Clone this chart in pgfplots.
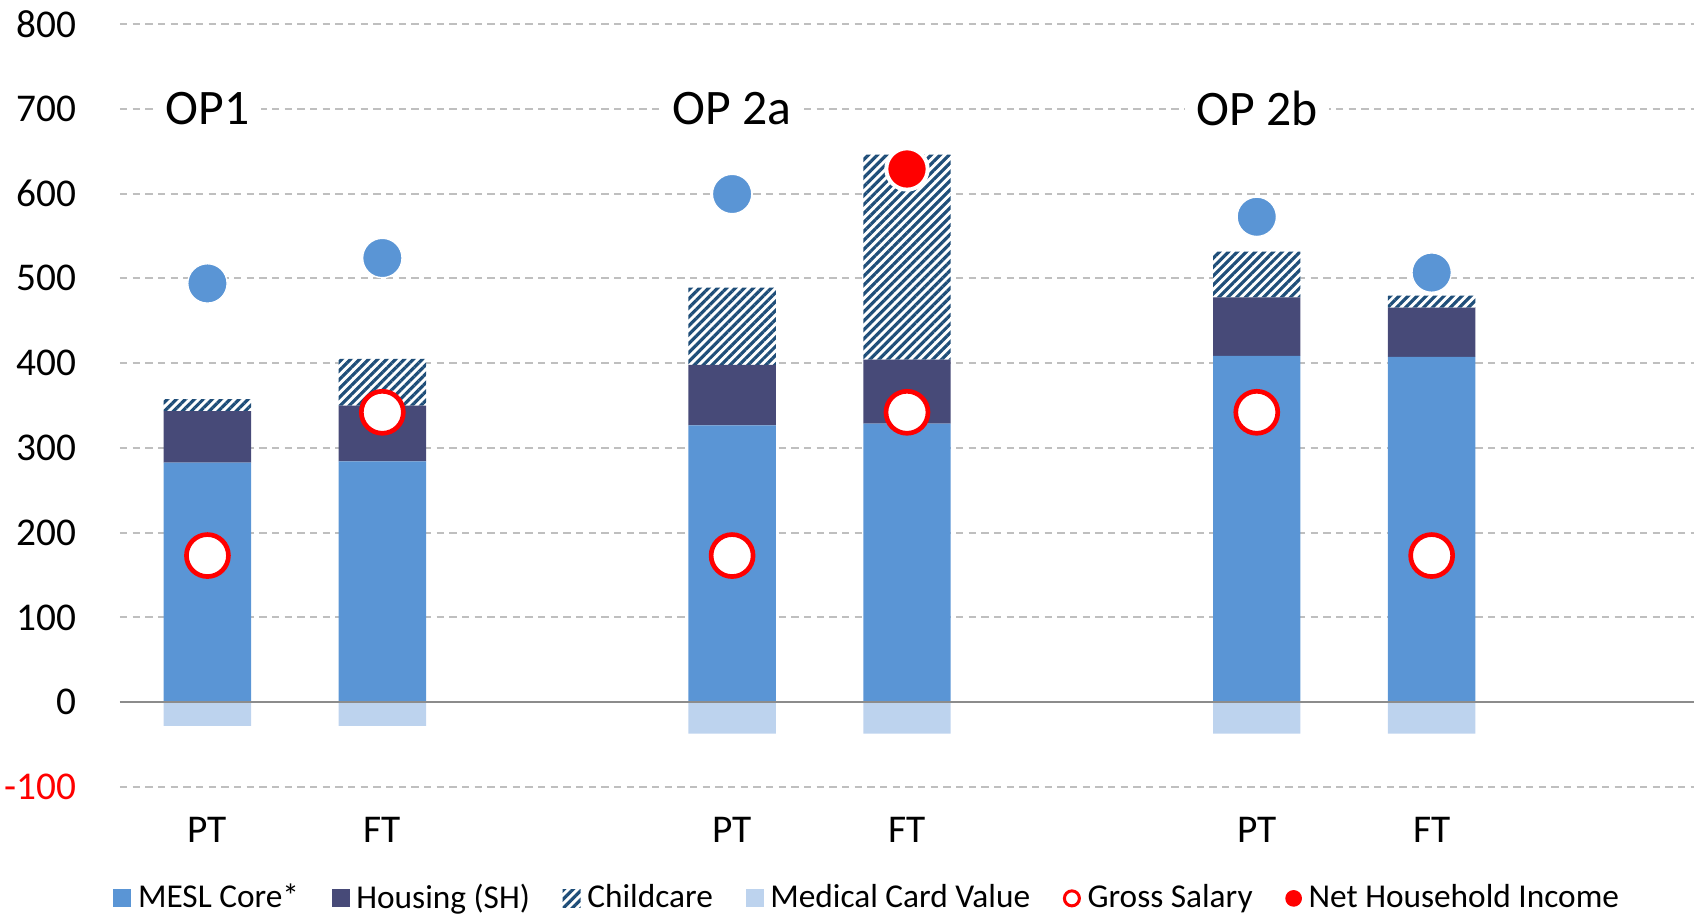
\documentclass[border=0pt]{standalone}
\usepackage{fontspec}
\setmainfont{Carlito}
\usepackage{pgfplots}
\pgfplotsset{compat=1.18}
\usetikzlibrary{patterns.meta}
\definecolor{mesl}{HTML}{5A95D5}
\definecolor{housing}{HTML}{474A78}
\definecolor{hatch}{HTML}{1F4E79}
\definecolor{medical}{HTML}{BDD3EE}
\definecolor{gridc}{HTML}{BFBFBF}
\definecolor{zeroc}{HTML}{8C8C8C}
\pgfplotsset{
  common/.style={scale only axis, width=472.2pt, height=228.9pt, at={(0pt,0pt)}, anchor=south west,
    xmin=-0.5, xmax=8.5, ymin=-100, ymax=800, clip=false},
  barleg/.style={legend image code/.code={\draw[##1,draw=none] (0pt,-2.7pt) rectangle (5.4pt,2.7pt);}},
}
\begin{document}
\begin{tikzpicture}
\useasboundingbox (-36pt,-38.7pt) rectangle (472.2pt,236.1pt);
\begin{axis}[common, ybar stacked, bar width=0.5,
  axis line style={draw=none}, major tick length=0pt,
  ytick={-100,0,100,200,300,400,500,600,700,800},
  yticklabels={\textcolor{red}{-100},0,100,200,300,400,500,600,700,800},
  ymajorgrids, grid style={gridc, line width=0.6pt, dash pattern=on 2.2pt off 1.6pt},
  xtick={0,1,3,4,6,7}, xticklabels={PT,FT,PT,FT,PT,FT},
  tick label style={font=\fontsize{11.8}{13}\selectfont},
  yticklabel style={anchor=east, inner sep=0pt, xshift=-13pt},
  xticklabel style={anchor=north, inner sep=0pt, yshift=-9pt},
  legend columns=-1,
  legend cell align=left,
  legend style={draw=none, at={(-0.011,-0.146)}, anchor=west,
    font=\fontsize{10}{12}\selectfont,
    /tikz/every even column/.append style={column sep=7.8pt}},
]
\addplot[fill=mesl, draw=none, barleg] coordinates {(0,282.5) (1,284) (3,326.5) (4,328.5) (6,408.5) (7,407.5)};
\addlegendentry{MESL Core*}
\addplot[fill=housing, draw=none, barleg] coordinates {(0,61) (1,66) (3,71.5) (4,75.5) (6,69) (7,58)};
\addlegendentry{Housing (SH)}
\addplot[fill=white, draw=none, postaction={pattern={Lines[angle=45,distance=1.9pt,line width=0.95pt]}, pattern color=hatch}, barleg] coordinates {(0,14) (1,55) (3,91) (4,242) (6,54) (7,14)};
\addlegendentry{Childcare}
\addlegendimage{barleg, fill=medical, draw=none}
\addlegendentry{Medical Card Value}
\addlegendimage{legend image code/.code={\draw[red, fill=white, line width=0.9pt] (2.7pt,0pt) circle (2.25pt);}}
\addlegendentry{Gross Salary}
\addlegendimage{legend image code/.code={\fill[red] (2.7pt,0pt) circle (2.3pt);}}
\addlegendentry{Net Household Income}
\end{axis}
\begin{axis}[common, hide axis]
\addplot[ybar, bar width=0.5, bar shift=0pt, fill=medical, draw=none] coordinates {(0,-28) (1,-28) (3,-37) (4,-37) (6,-37) (7,-37)};
\draw[zeroc, line width=0.75pt] (axis cs:-0.5,0) -- (axis cs:8.5,0);
\addplot[only marks, mark=*, mark size=6.3pt, mark options={draw=red, fill=white, line width=1.4pt}] coordinates {(0,173) (1,342) (3,173) (4,342) (6,342) (7,173)};
\addplot[only marks, mark=*, mark size=5.9pt, mark options={draw=white, fill=mesl, line width=0.4pt}] coordinates {(0,494) (1,524) (3,599.5) (6,572.6) (7,506.8)};
\addplot[only marks, mark=*, mark size=6.2pt, mark options={draw=white, fill=red, line width=1.2pt}] coordinates {(4,629)};
\node[fill=white, inner xsep=3.5pt, inner ysep=1pt, font=\fontsize{14.9}{17}\selectfont] at (axis cs:0,700) {OP1};
\node[fill=white, inner xsep=3.5pt, inner ysep=1pt, font=\fontsize{14.9}{17}\selectfont] at (axis cs:3,700) {OP 2a};
\node[fill=white, inner xsep=3.5pt, inner ysep=1pt, font=\fontsize{14.9}{17}\selectfont] at (axis cs:6,700) {OP 2b};
\end{axis}
\end{tikzpicture}
\end{document}
